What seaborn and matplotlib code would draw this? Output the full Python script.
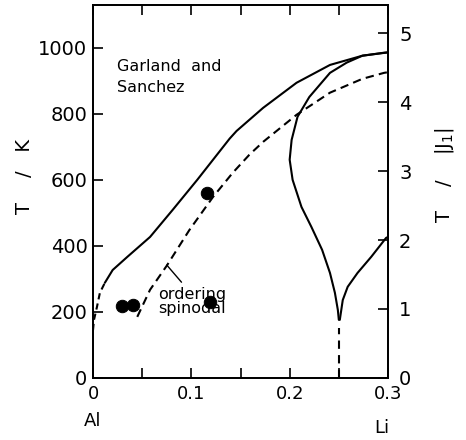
import numpy as np
import pandas as pd
import matplotlib
matplotlib.use("Agg")
import matplotlib.pyplot as plt
from matplotlib.ticker import MultipleLocator
import seaborn as sns

# order-disorder line (solid part) and its dashed low-T tail
x_trans = [0.012, 0.020, 0.035, 0.058, 0.081, 0.106, 0.125, 0.139, 0.146, 0.173, 0.207, 0.241, 0.274, 0.296, 0.300]
t_trans = [288, 327, 367, 427, 509, 600, 672, 725, 748, 818, 894, 948, 976, 985, 986]
x_tail = [0.0, 0.001, 0.004, 0.007, 0.012]
t_tail = [145, 176, 215, 258, 288]

# ordering spinodal
x_spin = [0.045, 0.058, 0.075, 0.098, 0.122, 0.142, 0.159, 0.173, 0.207, 0.241, 0.274, 0.296, 0.300]
t_spin = [185, 267, 340, 448, 548, 621, 676, 715, 797, 864, 906, 924, 926]

# two-phase dome near x = 0.25
x_dome = [0.300, 0.274, 0.258, 0.241, 0.220, 0.208, 0.202, 0.200, 0.203, 0.212, 0.222,
          0.233, 0.241, 0.246, 0.249, 0.250]
t_dome = [986, 976, 955, 924, 851, 791, 721, 661, 600, 518, 458, 388, 318, 258, 206, 176]
x_dome_r = [0.251, 0.254, 0.259, 0.269, 0.283, 0.298, 0.300]
t_dome_r = [176, 236, 276, 318, 367, 424, 427]
x_vert = [0.25, 0.25]
t_vert = [0, 150]

# experimental points
x_pts = [0.029, 0.041, 0.116, 0.119]
t_pts = [218, 221, 560, 230]

sns.set_style("ticks")
plt.rcParams['font.family'] = ['DejaVu Sans']
plt.rcParams['text.color'] = 'black'
plt.rcParams['axes.labelcolor'] = 'black'
plt.rcParams['xtick.color'] = 'black'
plt.rcParams['ytick.color'] = 'black'
plt.rcParams['axes.edgecolor'] = 'black'

fig = plt.figure(figsize=(4.66, 4.4), dpi=100)
ax = fig.add_axes([0.1996, 0.141, 0.633, 0.848])

lw = 1.5
sns.lineplot(x=x_trans, y=t_trans, sort=False, estimator=None, color='black', lw=lw, ax=ax)
sns.lineplot(x=x_tail, y=t_tail, sort=False, estimator=None, color='black', lw=lw,
             linestyle=(0, (3, 2)), ax=ax)
sns.lineplot(x=x_spin, y=t_spin, sort=False, estimator=None, color='black', lw=lw,
             linestyle=(0, (4, 2.5)), ax=ax)
sns.lineplot(x=x_dome, y=t_dome, sort=False, estimator=None, color='black', lw=lw, ax=ax)
sns.lineplot(x=x_dome_r, y=t_dome_r, sort=False, estimator=None, color='black', lw=lw, ax=ax)
sns.lineplot(x=x_vert, y=t_vert, sort=False, estimator=None, color='black', lw=lw,
             linestyle=(0, (4, 3)), ax=ax)
sns.scatterplot(x=x_pts, y=t_pts, color='black', s=80, edgecolor='black', ax=ax, zorder=5)

ax.set_xlim(0, 0.3)
ax.set_ylim(0, 1130)
ax.xaxis.set_minor_locator(MultipleLocator(0.05))
ax.yaxis.set_major_locator(MultipleLocator(200))
ax.set_xticks([0, 0.1, 0.2, 0.3])
ax.set_xticklabels(['0', '0.1', '0.2', '0.3'])
ax.tick_params(axis='both', which='both', direction='in', length=7, width=1.2,
               top=True, labeltop=False)
ax.tick_params(axis='y', labelsize=14, pad=4)
ax.tick_params(axis='x', labelsize=13, pad=5)
for sp in ax.spines.values():
    sp.set_linewidth(1.3)
    sp.set_visible(True)

ax2 = ax.twinx()
ax2.set_ylim(0, 5.41)
ax2.yaxis.set_major_locator(MultipleLocator(1))
ax2.tick_params(axis='y', direction='in', length=7, width=1.2, labelsize=14, pad=8)
for sp in ax2.spines.values():
    sp.set_linewidth(1.3)

ax.set_xlabel('')
ax.set_ylabel('')
fig.text(25 / 466, 1 - 176 / 440, 'T    /   K', fontsize=14, rotation=90,
         ha='center', va='center')
fig.text(445 / 466, 1 - 175 / 440, 'T    /    |J$_1$|', fontsize=14, rotation=90,
         ha='center', va='center')

ax.text(0.0, -0.115, 'Al', transform=ax.transAxes, fontsize=13, ha='center', va='center')
ax.text(0.98, -0.135, 'Li', transform=ax.transAxes, fontsize=13, ha='center', va='center')

ax.text(0.0245, 910, 'Garland  and\nSanchez', fontsize=11.5, ha='left', va='center',
        linespacing=1.5)
ax.text(0.066, 232, 'ordering\nspinodal', fontsize=11.5, ha='left', va='center',
        linespacing=0.95)
ax.plot([0.075, 0.090], [342, 290], color='black', lw=1.0)

fig.savefig('out.png', dpi=100)
